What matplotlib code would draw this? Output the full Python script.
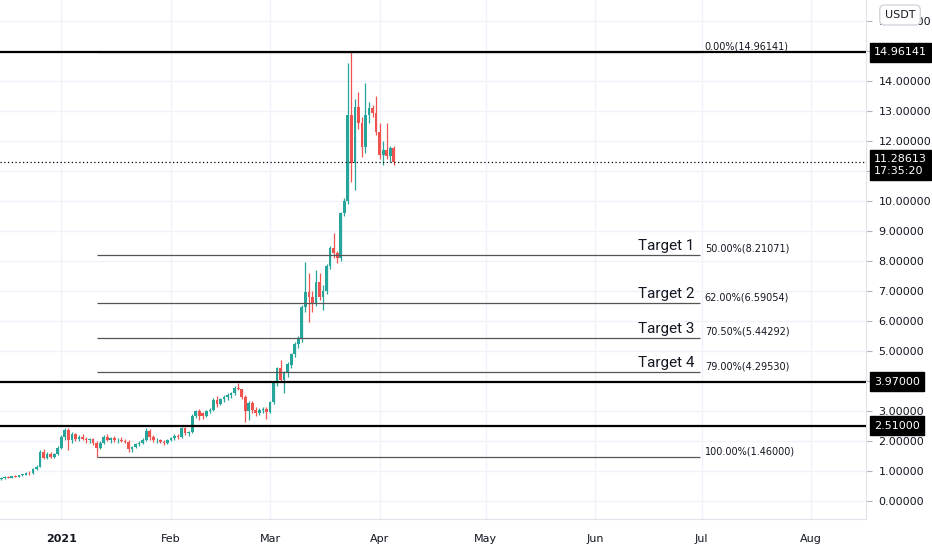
import matplotlib

matplotlib.use("Agg")
import matplotlib.pyplot as plt
import matplotlib.dates as mdates
import numpy as np
import pandas as pd

# daily candles, 2020-12-15 .. 2021-04-05
START = "2020-12-15"
opens = [
    0.72, 0.76, 0.80, 0.78, 0.82, 0.81, 0.86, 0.88, 0.95, 0.92, 1.06, 1.15, 1.62, 1.45, 1.58, 1.48, 1.56,
    1.78, 2.12, 2.38, 2.05, 2.22, 2.08, 2.15, 2.06, 2.02, 2.06, 1.95, 1.78, 1.95, 2.15, 2.05, 2.10, 2.02,
    2.05, 2.00, 1.98, 1.72, 1.80, 1.90, 1.95, 2.05, 2.35, 2.12, 2.02, 2.05, 1.98, 1.92, 2.04, 2.10, 2.18,
    2.14, 2.42, 2.26, 2.30, 2.85, 3.00, 2.92, 2.84, 3.00, 3.05, 3.38, 3.25, 3.40, 3.48, 3.52, 3.60, 3.78,
    3.72, 3.48, 3.00, 3.28, 3.02, 2.95, 3.05, 3.08, 2.98, 3.30, 3.93, 4.43, 4.05, 4.27, 4.55, 4.90, 5.25,
    5.45, 6.47, 6.97, 6.80, 6.60, 7.30, 6.80, 7.00, 7.85, 8.43, 8.27, 8.10, 9.60, 10.00, 12.87, 11.27,
    13.13, 12.60, 11.80, 12.87, 13.10, 12.95, 12.30, 11.55, 11.70, 11.50, 11.77,
]
highs = [
    0.80, 0.82, 0.84, 0.84, 0.86, 0.88, 0.90, 0.98, 1.00, 1.10, 1.20, 1.70, 1.72, 1.62, 1.62, 1.60, 1.82,
    2.20, 2.45, 2.42, 2.30, 2.28, 2.20, 2.22, 2.12, 2.10, 2.10, 2.00, 2.00, 2.20, 2.22, 2.15, 2.18, 2.10,
    2.12, 2.06, 2.02, 1.85, 1.95, 2.00, 2.10, 2.42, 2.40, 2.20, 2.10, 2.08, 2.04, 2.08, 2.15, 2.22, 2.25,
    2.48, 2.46, 2.35, 2.90, 3.05, 3.08, 2.98, 3.05, 3.10, 3.45, 3.50, 3.45, 3.55, 3.60, 3.65, 3.85, 3.93,
    3.75, 3.55, 3.35, 3.35, 3.15, 3.10, 3.15, 3.12, 3.35, 3.97, 4.48, 4.70, 4.32, 4.62, 4.95, 5.30, 5.50,
    6.55, 7.97, 7.60, 7.00, 7.70, 7.60, 7.20, 7.90, 8.50, 8.93, 8.35, 9.65, 10.10, 14.60, 14.96, 13.40,
    13.63, 12.80, 13.93, 13.30, 13.20, 13.50, 12.60, 12.00, 12.60, 11.85, 11.85,
]
lows = [
    0.70, 0.74, 0.76, 0.76, 0.79, 0.80, 0.83, 0.86, 0.88, 0.90, 1.02, 1.12, 1.40, 1.40, 1.42, 1.45, 1.52,
    1.72, 2.05, 1.70, 1.95, 2.00, 2.00, 2.02, 1.92, 1.95, 1.88, 1.46, 1.72, 1.90, 2.00, 1.95, 1.98, 1.95,
    1.98, 1.92, 1.65, 1.62, 1.76, 1.85, 1.90, 2.00, 2.05, 1.98, 1.95, 1.92, 1.88, 1.90, 2.00, 2.05, 2.08,
    2.10, 2.20, 2.18, 2.28, 2.78, 2.70, 2.72, 2.80, 2.92, 3.00, 3.15, 3.20, 3.30, 3.38, 3.45, 3.55, 3.70,
    3.40, 2.62, 2.70, 2.95, 2.85, 2.88, 2.95, 2.75, 2.95, 3.25, 3.85, 4.00, 3.60, 4.15, 4.45, 4.80, 5.10,
    5.30, 6.30, 5.97, 6.30, 6.50, 6.70, 6.37, 6.90, 7.75, 8.10, 7.95, 8.00, 9.50, 9.90, 10.63, 10.37,
    12.40, 11.47, 11.60, 12.60, 12.80, 12.20, 11.40, 11.20, 11.40, 11.30, 11.20,
]
closes = [
    0.76, 0.80, 0.78, 0.82, 0.81, 0.86, 0.88, 0.95, 0.92, 1.06, 1.15, 1.62, 1.45, 1.58, 1.48, 1.56, 1.78,
    2.12, 2.38, 2.05, 2.22, 2.08, 2.15, 2.06, 2.02, 2.06, 1.95, 1.78, 1.95, 2.15, 2.05, 2.10, 2.02, 2.05,
    2.00, 1.98, 1.72, 1.80, 1.90, 1.95, 2.05, 2.35, 2.12, 2.02, 2.05, 1.98, 1.92, 2.04, 2.10, 2.18, 2.14,
    2.42, 2.26, 2.30, 2.85, 3.00, 2.82, 2.84, 3.00, 3.05, 3.38, 3.25, 3.40, 3.48, 3.52, 3.60, 3.78, 3.72,
    3.48, 3.00, 3.28, 3.02, 2.95, 3.05, 3.08, 2.98, 3.30, 3.93, 4.43, 4.05, 4.27, 4.55, 4.90, 5.25, 5.45,
    6.47, 6.97, 6.80, 6.60, 7.30, 6.80, 7.00, 7.85, 8.43, 8.27, 8.10, 9.60, 10.00, 12.87, 11.27, 13.13,
    12.60, 11.80, 12.87, 13.10, 12.95, 12.30, 11.55, 11.70, 11.50, 11.77, 11.28613,
]

# horizontal levels
sr_levels = [14.96141, 3.97, 2.51]
fib_pcts = ["0.00%", "50.00%", "62.00%", "70.50%", "79.00%", "100.00%"]
fib_values = [14.96141, 8.21071, 6.59054, 5.44292, 4.29530, 1.46]
target_names = ["", "Target 1", "Target 2", "Target 3", "Target 4", ""]
fib_start = "2021-01-11"
fib_end = "2021-06-30 12:00"
last_time = "17:35:20"
currency = "USDT"

month_ticks = ["2021-01-01", "2021-02-01", "2021-03-01", "2021-04-01",
               "2021-05-01", "2021-06-01", "2021-07-01", "2021-08-01"]
month_labels = ["2021", "Feb", "Mar", "Apr", "May", "Jun", "Jul", "Aug"]
price_ticks = list(range(0, 17))
# scale labels that sit under the price boxes on the axis
hidden_ticks = [4, 11, 15]

UP = "#26a69a"
DOWN = "#ef5350"
TXT = "#131722"
GRID = "#f0f3fa"
AXLINE = "#e0e3eb"

plt.rcParams.update({"font.family": "DejaVu Sans", "font.size": 8})

fig = plt.figure(figsize=(9.32, 5.5), dpi=100)
ax = fig.add_axes([0, 31 / 550, 866 / 932, 519 / 550])

dates = pd.date_range(START, periods=len(closes), freq="D")
x = mdates.date2num(dates)
o = np.array(opens)
h = np.array(highs)
l = np.array(lows)
c = np.array(closes)
cols = np.where(c >= o, UP, DOWN)

# gridlines
for t in month_ticks:
    ax.axvline(mdates.datestr2num(t), color=GRID, lw=1, zorder=0)
for p in price_ticks:
    ax.axhline(p, color=GRID, lw=1, zorder=0)

ax.vlines(x, l, h, colors=cols, lw=0.9, zorder=3)
body = np.maximum(np.abs(c - o), 0.03)
ax.bar(x, body, bottom=np.minimum(o, c), width=0.76, color=cols, lw=0, zorder=4)

# support / resistance lines
for v in sr_levels:
    ax.axhline(v, color="black", lw=1.6, zorder=5)

# current price (dotted)
ax.axhline(closes[-1], color="black", lw=0.9, ls=(0, (1, 2)), zorder=5)

# fib retracement lines
x0 = mdates.datestr2num(fib_start)
x1 = mdates.datestr2num(fib_end)
for pct, v, name in zip(fib_pcts, fib_values, target_names):
    ax.hlines(v, x0, x1, color="#555555", lw=0.9, zorder=4)
    ax.annotate(f"{pct}({v:.5f})", xy=(x1, v), xytext=(5, 1), textcoords="offset pixels",
                ha="left", va="bottom", fontsize=7, color=TXT)
    if name:
        ax.annotate(name, xy=(x1, v), xytext=(-5, 2), textcoords="offset pixels",
                    ha="right", va="bottom", fontsize=11, color=TXT, family="Roboto")

base = mdates.datestr2num("2021-01-01")
ax.set_xlim(base - 17.33, base + 227.5)
ax.set_ylim(-0.6, 16.7)

ax.set_xticks([mdates.datestr2num(t) for t in month_ticks])
ax.set_xticklabels(month_labels, color=TXT, fontsize=8)
ax.get_xticklabels()[0].set_fontweight("bold")
ax.tick_params(axis="x", length=0, pad=11)

ax.yaxis.tick_right()
ax.set_yticks(price_ticks)
ax.set_yticklabels(["" if p in hidden_ticks else f"{p:.5f}" for p in price_ticks],
                   color=TXT, fontsize=8)
ax.tick_params(axis="y", length=4, color="#b2b5be", pad=5)

for s in ["top", "left"]:
    ax.spines[s].set_visible(False)
for s in ["right", "bottom"]:
    ax.spines[s].set_color(AXLINE)

# price boxes on the axis
for v in sr_levels:
    ax.annotate(f"{v:.5f}", xy=(1, v), xycoords=("axes fraction", "data"),
                xytext=(8, 0), textcoords="offset pixels", ha="left", va="center",
                fontsize=8, color="white", zorder=10,
                bbox=dict(boxstyle="square,pad=0.4", fc="black", ec="black"))
ax.annotate(f"{closes[-1]:.5f}\n{last_time}", xy=(1, closes[-1]), xycoords=("axes fraction", "data"),
            xytext=(8, 8), textcoords="offset pixels", ha="left", va="top",
            fontsize=8, color="white", linespacing=1.15, zorder=10,
            bbox=dict(boxstyle="square,pad=0.4", fc="black", ec="black"))

# currency badge sits over the top scale label, as in the source chart
fig.text(900 / 932, 1 - 15 / 550, currency, ha="center", va="center", fontsize=8, color=TXT,
         bbox=dict(boxstyle="round,pad=0.45", fc="white", ec="#d1d4dc"), zorder=20)

fig.savefig("out.png", dpi=100)
